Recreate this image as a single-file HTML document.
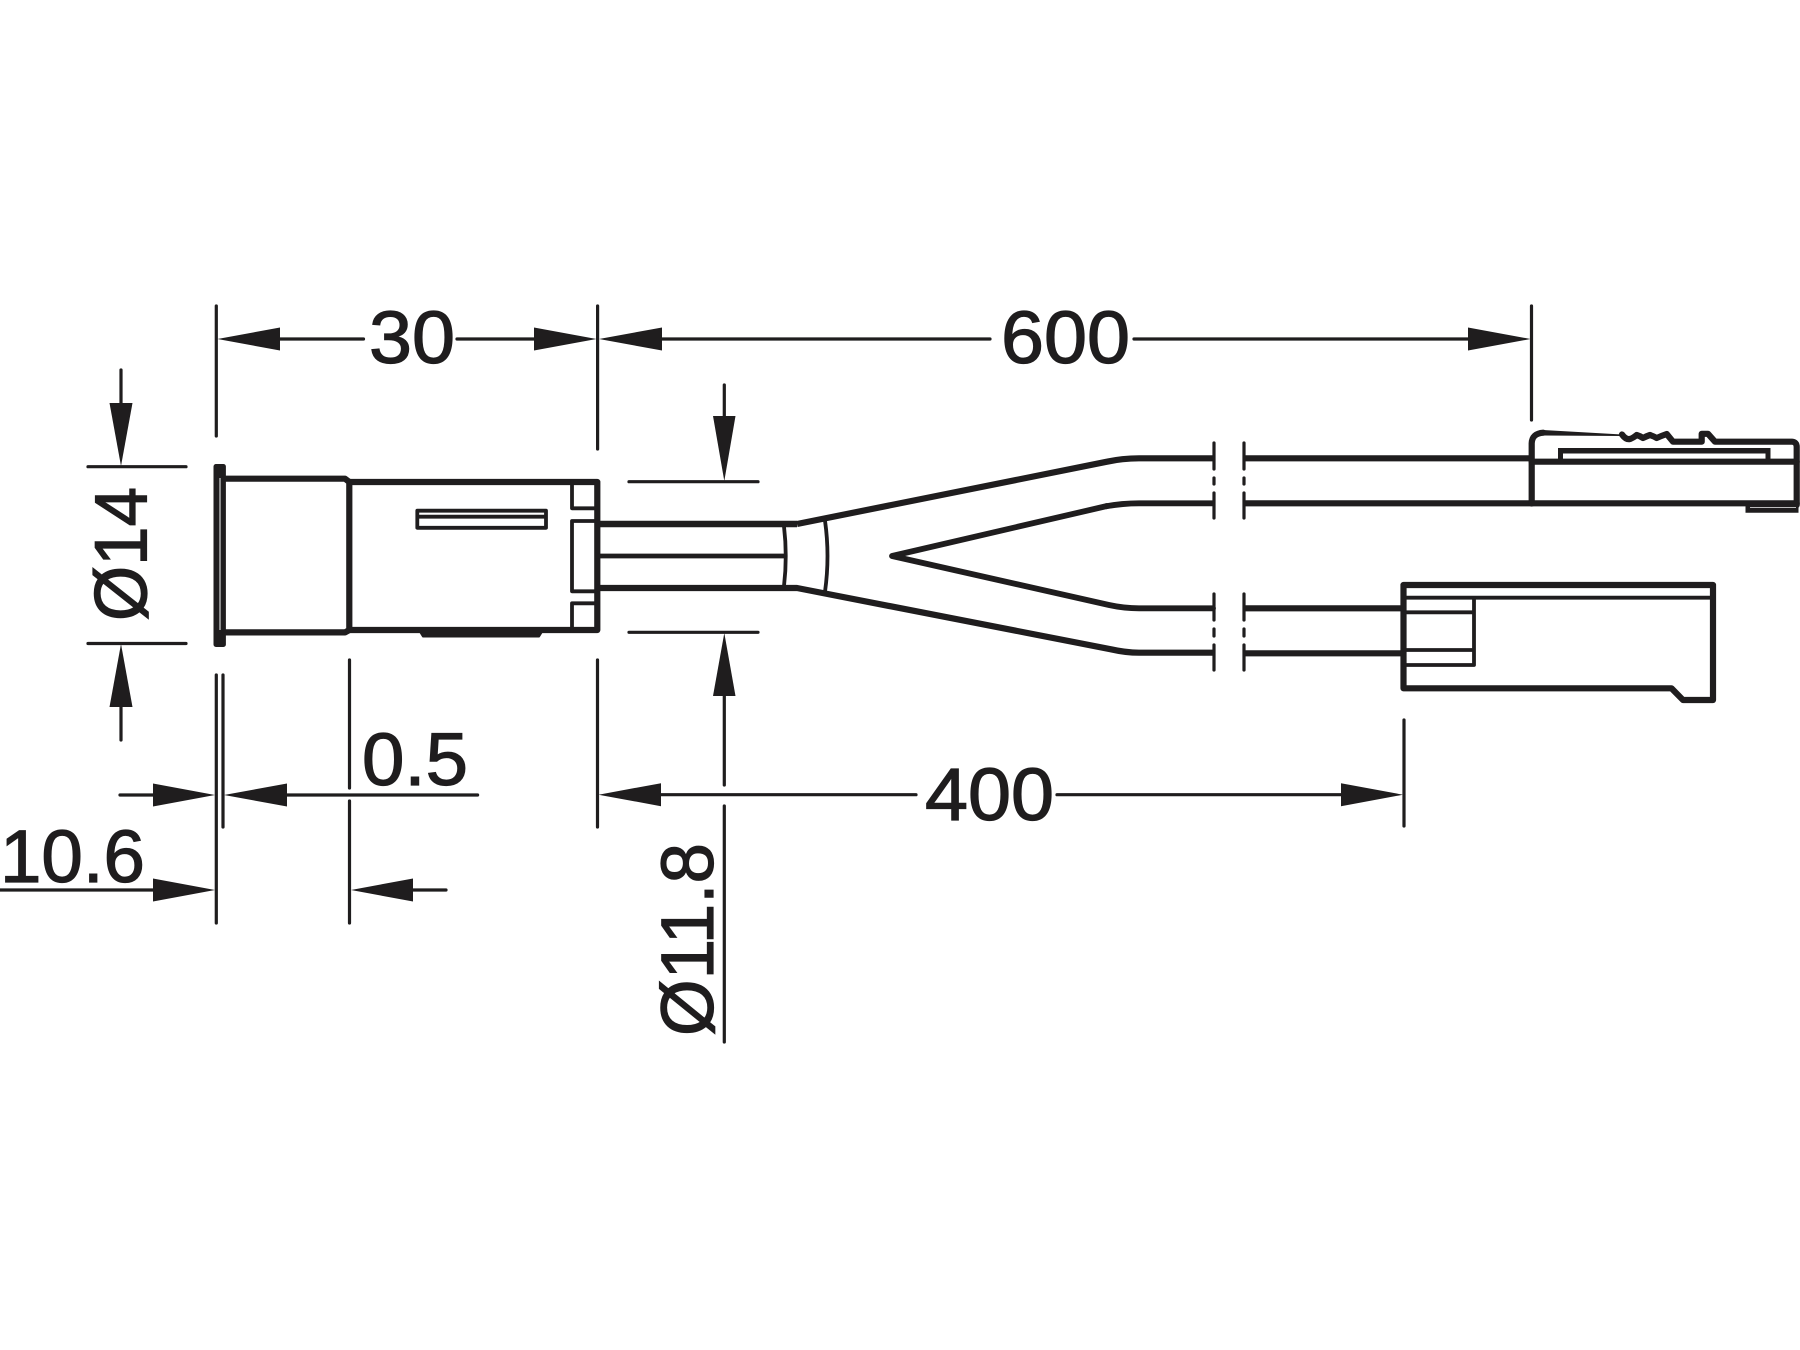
<!DOCTYPE html>
<html>
<head>
<meta charset="utf-8">
<style>
html,body{margin:0;padding:0;background:#fff;width:1800px;height:1350px;overflow:hidden}
svg{display:block}
text{font-family:"Liberation Sans",sans-serif;font-size:74px;fill:#1f1d1e;stroke:#1f1d1e;stroke-width:1.2px}
.d{stroke:#1f1d1e;fill:none;stroke-width:3.2;stroke-linecap:round}
.a{fill:#1f1d1e;stroke:none}
.k{stroke:#1f1d1e;fill:none;stroke-width:6.2;stroke-linecap:round;stroke-linejoin:round}
.c{stroke:#1f1d1e;fill:none;stroke-width:6.2;stroke-linecap:butt;stroke-linejoin:round}
.t{stroke:#1f1d1e;fill:none;stroke-width:3.8;stroke-linecap:round;stroke-linejoin:round}
</style>
</head>
<body>
<svg width="1800" height="1350" viewBox="0 0 1800 1350" xmlns="http://www.w3.org/2000/svg">
<rect width="1800" height="1350" fill="#fff"/>

<!-- extension lines -->
<path class="d" d="M216.3 306V436M597.6 306V449M1531.5 306V420"/>
<path class="d" d="M216.3 675V923M223 675V827M349.5 660V788M349.5 801V923M597.5 660V827M1404 720V826"/>
<path class="d" d="M88 466.7H186M88 643.5H186M629 481.7H758M629 632.3H758"/>

<!-- top dimension lines -->
<path class="d" d="M280 339H363.5M457 339H534M662 339H990M1134 339H1468"/>
<path class="a" d="M217.5 339L280 327.5V350.5Z"/>
<path class="a" d="M596.5 339L534 327.5V350.5Z"/>
<path class="a" d="M599 339L662 327.5V350.5Z"/>
<path class="a" d="M1530.5 339L1468 327.5V350.5Z"/>
<text x="369" y="363" textLength="86" lengthAdjust="spacingAndGlyphs">30</text>
<text x="1001" y="363" textLength="129" lengthAdjust="spacingAndGlyphs">600</text>

<!-- diameter 14 -->
<path class="d" d="M121 370V403M121 707V740"/>
<path class="a" d="M121 466L109.5 403H132.5Z"/>
<path class="a" d="M121 644L109.5 707H132.5Z"/>
<text transform="translate(146.5 621) rotate(-90)" textLength="134" lengthAdjust="spacingAndGlyphs">Ø14</text>

<!-- diameter 11.8 -->
<path class="d" d="M724.3 385V416M724.3 696V785M724.3 806V1042"/>
<path class="a" d="M724.3 481L713 416H735.5Z"/>
<path class="a" d="M724.3 633L713 696H735.5Z"/>
<text transform="translate(713 1036) rotate(-90)" textLength="193" lengthAdjust="spacingAndGlyphs">Ø11.8</text>

<!-- 400 -->
<path class="d" d="M661 794.7H916M1057 794.7H1341"/>
<path class="a" d="M598.5 794.7L661 783.2V806.2Z"/>
<path class="a" d="M1403 794.7L1341 783.2V806.2Z"/>
<text x="925" y="820" textLength="129" lengthAdjust="spacingAndGlyphs">400</text>

<!-- 0.5 / 10.6 -->
<path class="d" d="M120 795H153M287 795H477.6M0 890H153M413 890H446"/>
<path class="a" d="M215 795L153 783.5V806.5Z"/>
<path class="a" d="M224 795L287 783.5V806.5Z"/>
<path class="a" d="M215 890L153 878.5V901.5Z"/>
<path class="a" d="M351 890L413 878.5V901.5Z"/>
<text x="362" y="785" textLength="106" lengthAdjust="spacingAndGlyphs">0.5</text>
<text x="0" y="882" textLength="145" lengthAdjust="spacingAndGlyphs">10.6</text>

<!-- flange and body -->
<rect x="213.5" y="464" width="12.4" height="183" rx="2.5" fill="#1f1d1e"/>
<path d="M220 478V630" stroke="#a8a8a8" stroke-width="1.6" fill="none"/>
<path class="k" d="M225 478.7H345L349.3 482V630L345 632.4H225"/>
<path class="k" d="M349.3 482H597.3V630H349.3"/>
<path d="M419 630L423 636.5H539L543 630Z" fill="#1f1d1e" stroke="#1f1d1e" stroke-width="2" stroke-linejoin="round"/>
<path class="t" d="M572 482V508.3H597M597 521H572V591.3H597M597 603.3H572V630"/>
<path class="t" d="M417.3 510.7H546V527.8H417.3ZM417.3 516.7H546"/>

<!-- cable -->
<path class="c" style="stroke-width:6.6" d="M597 524H797"/>
<path class="c" d="M797 524L1107 461.7Q1122 458.3 1139 458.3H1213"/>
<path class="c" d="M597 588H797L1111 649.3Q1126 652.7 1139 652.7H1213"/>
<path class="k" style="stroke-width:5.8" d="M1107 506L892 556L1109 605Q1124 608.3 1139 608.3H1213"/>
<path class="c" style="stroke-width:5.8" d="M1105.5 506.4Q1122 503.3 1139 503.3H1213"/>
<path class="c" style="stroke-width:4.8" d="M597 556H785"/>
<path class="t" d="M784 526.5Q787.5 556 784 586M825 520.7Q830 556 825 591.7"/>

<!-- break marks -->
<path class="d" d="M1214 443V469M1214 478V484M1214 493V518M1214 594V620M1214 629V636M1214 645V670"/>
<path class="d" d="M1244 443V469M1244 478V484M1244 493V518M1244 594V620M1244 629V636M1244 645V670"/>
<path class="c" d="M1244 458.3H1532M1244 503.3H1532M1244 608.3H1403M1244 653.3H1403"/>

<!-- upper connector -->
<path class="k" d="M1531.7 503.5V443.3Q1532 433.5 1543.3 432.7"/>
<path d="M1543 430L1622 434.5V436L1543 435.5Z" fill="#1f1d1e"/>
<path class="k" d="M1622 434.5Q1626 440 1630 439Q1633 438 1636.7 435Q1640 436 1643 438Q1647 436 1650 435Q1653 436 1656.7 438Q1661 436 1666.7 434L1673 441.7H1701.7V433.8H1708L1715 441.7H1792Q1796.7 442 1796.7 447V505"/>
<path class="k" d="M1531.7 503.3H1796.7M1531.7 461.7H1796.7"/>
<path d="M1558 448H1770.5V461H1765.5V453.5H1563V461H1558Z" fill="#1f1d1e"/>
<path d="M1745.5 505.5H1798.5V512.7H1745.5Z" fill="#1f1d1e"/>
<path d="M1750 507.5H1796" stroke="#bdbdbd" stroke-width="1" fill="none"/>

<!-- lower connector -->
<path class="k" d="M1403.5 585H1713V700H1683L1671.5 688.3H1403.5Z"/>
<path class="t" d="M1404 597.7H1713M1474 597.7V665H1404M1404 612.3H1474M1404 650H1474"/>
</svg>
</body>
</html>
